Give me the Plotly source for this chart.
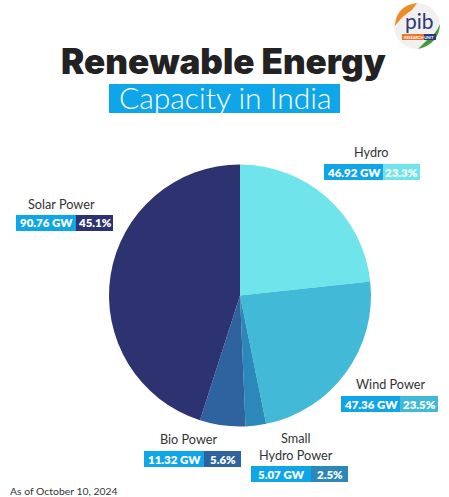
import plotly.graph_objects as go

W, H = 449, 497
sources = ["Hydro", "Wind Power", "Small Hydro Power", "Bio Power", "Solar Power"]
capacity_gw = [46.92, 47.36, 5.07, 11.32, 90.76]
gw_labels = ["46.92 GW", "47.36 GW", "5.07 GW", "11.32 GW", "90.76 GW"]
pct_labels = ["23.3%", "23.5%", "2.5%", "5.6%", "45.1%"]
colors = ["#6FE4EA", "#42B9D6", "#2C88B8", "#2F639F", "#2D3270"]
name_text = ["Hydro", "Wind Power", "Small<br>Hydro Power", "Bio Power", "Solar Power"]
BLUE = "#0FA5E9"

def px(x): return x / W
def py(y): return 1 - y / H

fig = go.Figure(go.Pie(
    labels=sources, values=capacity_gw, sort=False, direction="clockwise", rotation=0,
    marker=dict(colors=colors, line=dict(width=0)),
    textinfo="none", hoverinfo="label+value", showlegend=False,
    domain=dict(x=[px(109), px(371)], y=[py(426.5), py(164.5)]),
))

shapes, ann = [], []

def rect(x0, y0, x1, y1, color):
    shapes.append(dict(type="rect", xref="paper", yref="paper", x0=px(x0), x1=px(x1),
                       y0=py(y0), y1=py(y1), fillcolor=color, line_width=0, layer="above"))

def text(x, y, s, size, color, family="Lato", weight=None, anchor="center"):
    f = dict(size=size, color=color, family=family)
    if weight: f["weight"] = weight
    ann.append(dict(xref="paper", yref="paper", x=px(x), y=py(y), text=s, showarrow=False,
                    font=f, xanchor=anchor, yanchor="middle", align="center",
                    borderpad=0, borderwidth=0))

boxes = [
    (324, 383, 420, 164, 180, 371, 152),
    (341, 400, 438, 396, 412, 391, 384),
    (251, 311, 348, 466, 482, 296, 446),
    (144, 204, 241, 451, 467, 189, 439),
    (16, 76, 113, 215, 231, 61, 204),
]
for i, (x0, xs, x1, y0, y1, nx, ny) in enumerate(boxes):
    rect(x0, y0, xs, y1, BLUE)
    rect(xs, y0, x1, y1, colors[i])
    text((x0 + xs) / 2, (y0 + y1) / 2, gw_labels[i], 11.5, "white", weight=800)
    text((xs + x1) / 2, (y0 + y1) / 2, pct_labels[i], 11.5, "white", weight=800)
    text(nx, ny, name_text[i], 12.7, "#333333", family="Lato")

text(224, 61, "Renewable Energy", 35, "#222222", family="Inter", weight=900)
rect(109, 84, 340, 113, BLUE)
text(225, 97, "Capacity in India", 30, "white", family="Lato", weight=300)
text(9.5, 491, "As of October 10, 2024", 10.4, "#333333", anchor="left")

# logo
cx, cy, r = 417, 26, 23
shapes.append(dict(type="circle", xref="paper", yref="paper", x0=px(cx-r), x1=px(cx+r),
                   y0=py(cy+r), y1=py(cy-r), fillcolor="#F2F0EE", line_width=0, layer="above"))
shapes.append(dict(type="path", xref="paper", yref="paper", layer="above", line_width=0,
                   fillcolor="#F08A24",
                   path=f"M {px(395)} {py(26)} Q {px(396)} {py(6)} {px(417)} {py(3)} L {px(412)} {py(10)} Q {px(402)} {py(16)} {px(395)} {py(26)} Z"))
shapes.append(dict(type="path", xref="paper", yref="paper", layer="above", line_width=0,
                   fillcolor="#3F9A3A",
                   path=f"M {px(440)} {py(24)} Q {px(439)} {py(44)} {px(418)} {py(49)} L {px(428)} {py(39)} Q {px(436)} {py(34)} {px(440)} {py(24)} Z"))
rect(402, 34, 424, 40, "#E8782A")
rect(424, 34, 436, 40, "#2B3A7A")
text(419, 21, "pib", 21, "#2B3A7A", family="Lato", weight=400)
text(419, 37.5, "RESEARCH UNIT", 3.8, "white", family="Lato", weight=700)

fig.update_layout(width=W, height=H, margin=dict(l=0, r=0, t=0, b=0),
                  paper_bgcolor="white", plot_bgcolor="white",
                  shapes=shapes, annotations=ann)
fig.write_html("out.html", config=dict(displayModeBar=False),
               post_script="document.body.style.margin='0';document.documentElement.style.overflow='hidden';")
